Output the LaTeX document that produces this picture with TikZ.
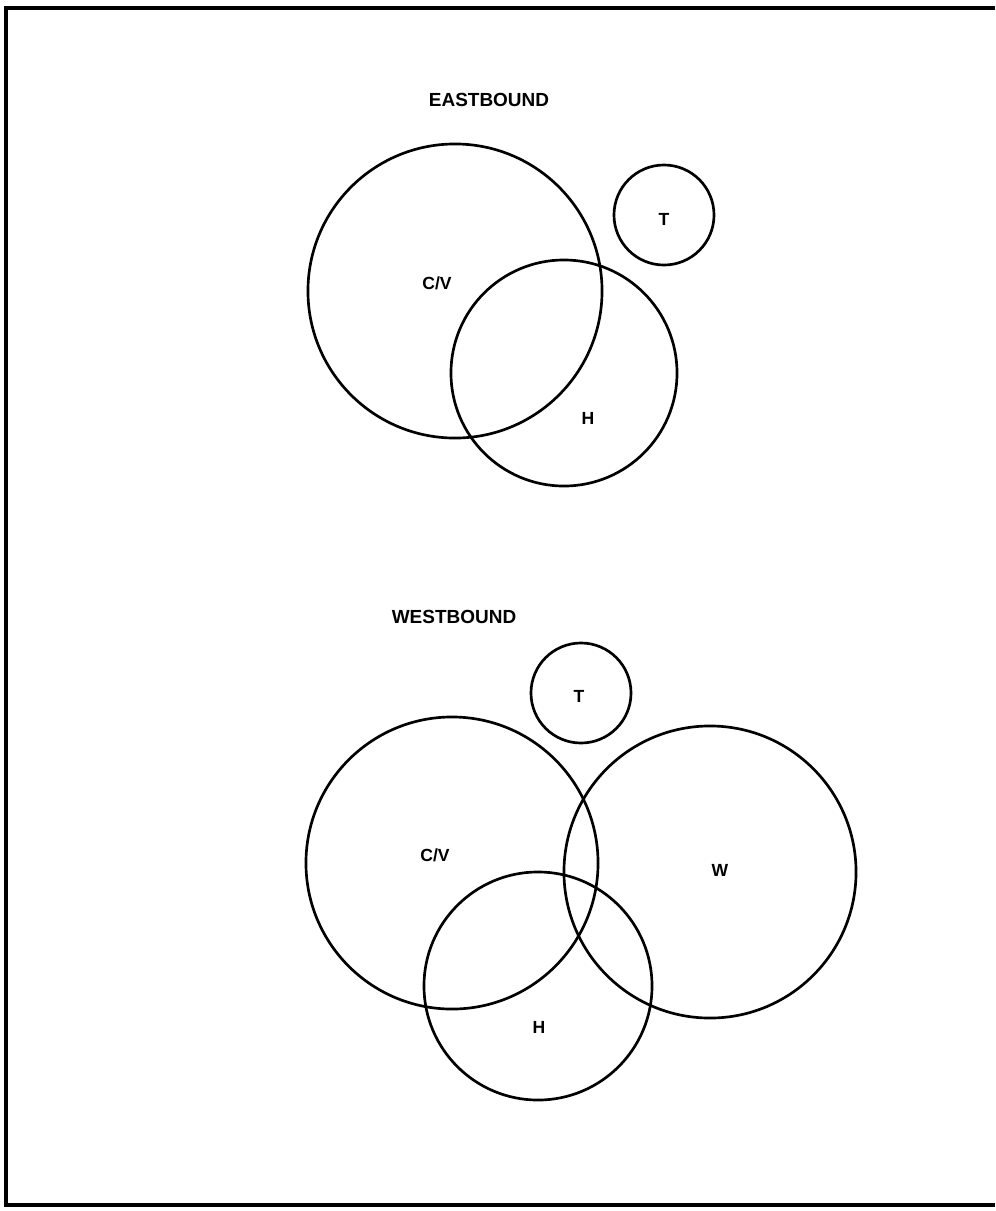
\documentclass[tikz,border=0pt]{standalone}
\usepackage{fontspec}
\setmainfont{Liberation Sans}
\usetikzlibrary{positioning}

\begin{document}
\begin{tikzpicture}[x=0.025cm,y=-0.025cm,
  ring/.style={draw,circle,line width=1.9pt,inner sep=0pt},
  lbl/.style={font=\bfseries\fontsize{12.5}{12.5}\selectfont,inner sep=0pt},
  ttl/.style={font=\bfseries\fontsize{13.5}{13.5}\selectfont,inner sep=0pt}]
\useasboundingbox (0,0) rectangle (995,1211);
% Frame (open on the right)
\draw[line width=2.4pt] (995,8) -- (6,8) -- (6,1205) -- (995,1205);
% Eastbound
\node[ttl] (etitle) at (489,100) {EASTBOUND};
\node[ring,minimum size=7.35cm] (ecv) at (455,291) {};
\node[ring,minimum size=5.65cm] (eh) at (564,373) {};
\node[ring,minimum size=2.5cm] (et) at (664,215) {};
\node[lbl] (ecvl) at (437,283) {C/V};
\node[lbl] (ehl) at (588,418) {H};
\node[lbl] (etl) at (664,219) {T};
% Westbound
\node[ttl] (wtitle) at (454,617) {WESTBOUND};
\node[ring,minimum size=2.5cm] (wt) at (581,693) {};
\node[ring,minimum size=7.3cm] (wcv) at (452,863) {};
\node[ring,minimum size=7.3cm] (ww) at (710,872) {};
\node[ring,minimum size=5.7cm] (wh) at (538,986) {};
\node[lbl] (wtl) at (579,696) {T};
\node[lbl] (wcvl) at (435,855) {C/V};
\node[lbl] (wwl) at (720,870) {W};
\node[lbl] (whl) at (539,1027) {H};
\end{tikzpicture}
\end{document}
